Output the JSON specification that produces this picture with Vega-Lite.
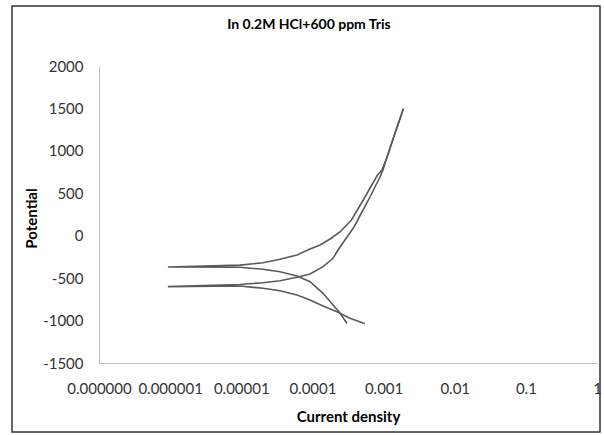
{
  "$schema": "https://vega.github.io/schema/vega-lite/v6.json",
  "width": 588,
  "height": 426,
  "padding": {"left": 12, "top": 6, "right": 4, "bottom": 3},
  "autosize": {"type": "none"},
  "background": "white",
  "config": {"view": {"stroke": "#353535", "strokeWidth": 1.5}, "font": "Lato"},
  "title": {"text": "In 0.2M HCl+600 ppm Tris", "fontSize": 14, "fontWeight": "bold", "font": "Lato", "color": "#000000", "baseline": "top", "offset": -26, "dx": 3},
  "data": {"values": [
    {"s": "A", "i": 1, "current": 3.06e-4, "potential": -1035},
    {"s": "A", "i": 2, "current": 2.44e-4, "potential": -911},
    {"s": "A", "i": 3, "current": 1.95e-4, "potential": -817},
    {"s": "A", "i": 4, "current": 1.41e-4, "potential": -679},
    {"s": "A", "i": 5, "current": 9.25e-5, "potential": -542},
    {"s": "A", "i": 6, "current": 6.07e-5, "potential": -475},
    {"s": "A", "i": 7, "current": 3.5e-5, "potential": -424},
    {"s": "A", "i": 8, "current": 2.02e-5, "potential": -396},
    {"s": "A", "i": 9, "current": 9.6e-6, "potential": -372},
    {"s": "A", "i": 10, "current": 9.3e-7, "potential": -368},
    {"s": "A", "i": 11, "current": 9.6e-6, "potential": -347},
    {"s": "A", "i": 12, "current": 2.02e-5, "potential": -318},
    {"s": "A", "i": 13, "current": 3.5e-5, "potential": -278},
    {"s": "A", "i": 14, "current": 6.07e-5, "potential": -227},
    {"s": "A", "i": 15, "current": 9.25e-5, "potential": -157},
    {"s": "A", "i": 16, "current": 1.28e-4, "potential": -110},
    {"s": "A", "i": 17, "current": 1.77e-4, "potential": -39},
    {"s": "A", "i": 18, "current": 2.44e-4, "potential": 44},
    {"s": "A", "i": 19, "current": 3.54e-4, "potential": 185},
    {"s": "A", "i": 20, "current": 5.48e-4, "potential": 456},
    {"s": "A", "i": 21, "current": 8.22e-4, "potential": 715},
    {"s": "A", "i": 22, "current": 9.5e-4, "potential": 774},
    {"s": "A", "i": 23, "current": 1.12e-3, "potential": 928},
    {"s": "A", "i": 24, "current": 1.45e-3, "potential": 1210},
    {"s": "A", "i": 25, "current": 1.9e-3, "potential": 1495},
    {"s": "B", "i": 1, "current": 5.48e-4, "potential": -1035},
    {"s": "B", "i": 2, "current": 5.14e-4, "potential": -1028},
    {"s": "B", "i": 3, "current": 3.37e-4, "potential": -973},
    {"s": "B", "i": 4, "current": 2.21e-4, "potential": -896},
    {"s": "B", "i": 5, "current": 1.41e-4, "potential": -828},
    {"s": "B", "i": 6, "current": 9.25e-5, "potential": -758},
    {"s": "B", "i": 7, "current": 6.07e-5, "potential": -699},
    {"s": "B", "i": 8, "current": 3.5e-5, "potential": -648},
    {"s": "B", "i": 9, "current": 2.02e-5, "potential": -620},
    {"s": "B", "i": 10, "current": 9.6e-6, "potential": -593},
    {"s": "B", "i": 11, "current": 9.3e-7, "potential": -600},
    {"s": "B", "i": 12, "current": 9.6e-6, "potential": -575},
    {"s": "B", "i": 13, "current": 2.02e-5, "potential": -554},
    {"s": "B", "i": 14, "current": 3.5e-5, "potential": -530},
    {"s": "B", "i": 15, "current": 6.07e-5, "potential": -490},
    {"s": "B", "i": 16, "current": 9.25e-5, "potential": -451},
    {"s": "B", "i": 17, "current": 1.41e-4, "potential": -365},
    {"s": "B", "i": 18, "current": 1.95e-4, "potential": -266},
    {"s": "B", "i": 19, "current": 2.29e-4, "potential": -168},
    {"s": "B", "i": 20, "current": 3.84e-4, "potential": 103},
    {"s": "B", "i": 21, "current": 6.13e-4, "potential": 421},
    {"s": "B", "i": 22, "current": 8.91e-4, "potential": 692},
    {"s": "B", "i": 23, "current": 9.8e-4, "potential": 774},
    {"s": "B", "i": 24, "current": 1.12e-3, "potential": 928},
    {"s": "B", "i": 25, "current": 1.45e-3, "potential": 1210},
    {"s": "B", "i": 26, "current": 1.9e-3, "potential": 1495}
  ]},
  "mark": {"type": "line", "color": "#5a5a5a", "strokeWidth": 1.6},
  "encoding": {
    "x": {
      "field": "current", "type": "quantitative",
      "scale": {"type": "log", "domain": [1e-7, 1], "range": [87, 585], "nice": false},
      "axis": {
        "title": "Current density",
        "values": [1e-7, 1e-6, 1e-5, 1e-4, 1e-3, 1e-2, 1e-1, 1],
        "labelExpr": "datum.value < 5e-7 ? '0.000000' : format(datum.value, '.6~f')",
        "offset": -69, "ticks": false, "tickSize": 0, "grid": false,
        "domainColor": "#bfbfbf", "domainWidth": 1,
        "labelFont": "Lato", "labelFontSize": 15, "labelColor": "#333333", "labelPadding": 18,
        "labelFlush": false, "labelOverlap": false, "labelBound": false,
        "titleFont": "Lato", "titleFontSize": 15, "titleFontWeight": "bold", "titleColor": "#000000",
        "titleX": 336, "titleY": 53, "titleBaseline": "middle", "titleAlign": "center"
      }
    },
    "y": {
      "field": "potential", "type": "quantitative",
      "scale": {"domain": [-1500, 2000], "range": [357, 60], "nice": false, "zero": false},
      "axis": {
        "title": "Potential",
        "values": [-1500, -1000, -500, 0, 500, 1000, 1500, 2000],
        "labelExpr": "'' + datum.value",
        "offset": -87, "ticks": false, "tickSize": 0, "grid": false,
        "domainColor": "#bfbfbf", "domainWidth": 1,
        "labelFont": "Lato", "labelFontSize": 15, "labelColor": "#333333", "labelPadding": 16,
        "labelFlush": false, "labelOverlap": false, "labelBound": false,
        "titleFont": "Lato", "titleFontSize": 15, "titleFontWeight": "bold", "titleColor": "#000000",
        "titleX": -68, "titleY": 212, "titleBaseline": "middle", "titleAlign": "center"
      }
    },
    "detail": {"field": "s"},
    "order": {"field": "i", "type": "quantitative"}
  }
}
